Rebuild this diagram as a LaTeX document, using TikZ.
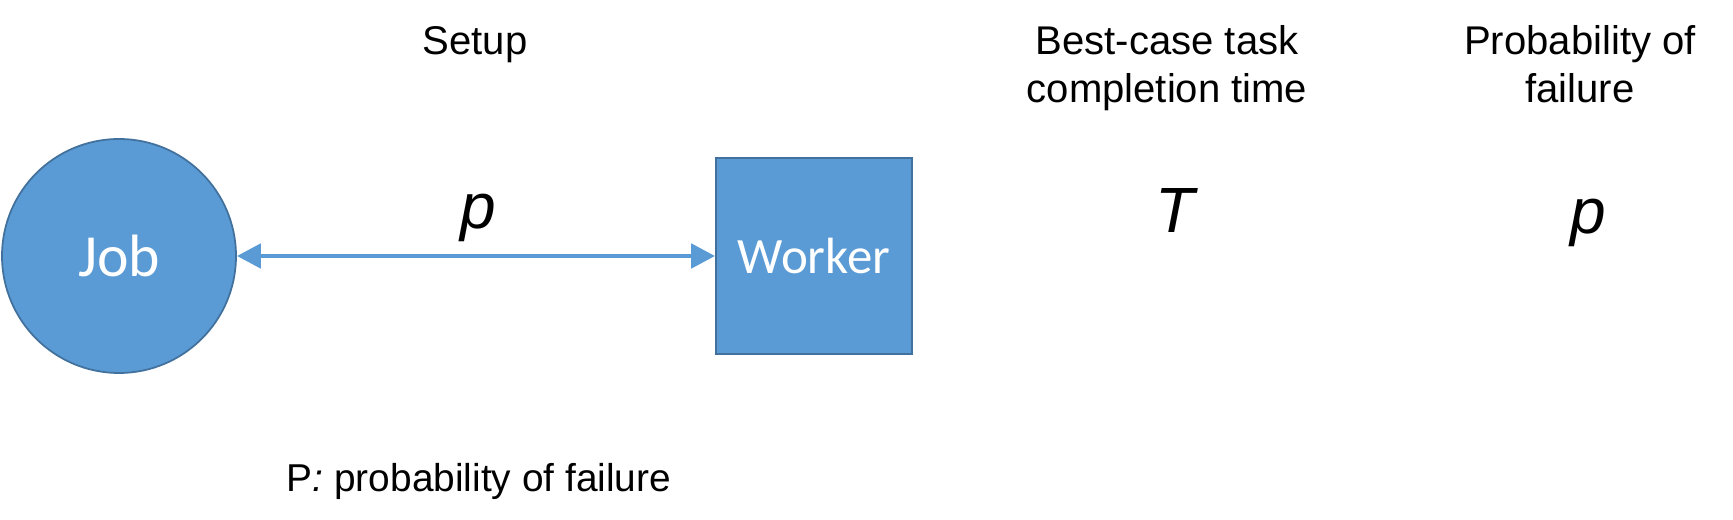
\documentclass[tikz,border=0pt]{standalone}
\usepackage{fontspec}
\setmainfont{Liberation Sans}
\newfontfamily\calibri{Carlito}
\usepackage{tikz}
\usepackage{xcolor}
\usetikzlibrary{arrows.meta}
\definecolor{officeblue}{HTML}{5B9BD5}
\definecolor{edgeblue}{HTML}{41719C}
\tikzstyle{job}=[draw=edgeblue, fill=officeblue, circle, text=white, inner sep=0pt, minimum size=2.34cm, line width=0.5pt, font=\calibri\fontsize{17}{20}\selectfont]
\tikzstyle{worker}=[draw=edgeblue, fill=officeblue, rectangle, text=white, inner sep=0pt, minimum size=1.96cm, line width=0.5pt, font=\calibri\fontsize{14.5}{17}\selectfont]
\tikzstyle{heading}=[align=center, inner sep=0pt, anchor=base, font=\fontsize{11.4}{13.9}\selectfont]
\tikzstyle{symbol}=[inner sep=0pt, anchor=base, font=\itshape\fontsize{18.2}{21}\selectfont]
\tikzstyle{link}=[{Triangle[length=6.8pt,width=6.8pt]}-{Triangle[length=6.8pt,width=6.8pt]}, officeblue, line width=1.4pt]

\begin{document}
\begin{tikzpicture}[thick]%

	\useasboundingbox (0,0) rectangle (17.33,5.2);

	\begin{scope}
		\draw  (1.19,2.64)  node (Node_Job)    [job]     {Job};
		\draw  (8.14,2.64)  node (Node_Worker) [worker]  {Worker};

		\draw [link] (Node_Job) -- (Node_Worker);

		\draw  (4.78,2.91)  node (Label_p)     [symbol]  {p};
	\end{scope}

	\begin{scope}
		\draw  (4.75,4.65)   node (Head_Setup) [heading] {Setup};
		\draw  (11.67,4.17)  node (Head_Time)  [heading] {Best-case task\\completion time};
		\draw  (15.80,4.17)  node (Head_Fail)  [heading] {Probability of\\failure};

		\draw  (11.75,2.87)  node (Value_T)    [symbol]  {T};
		\draw  (15.88,2.86)  node (Value_p)    [symbol]  {p};

		\draw  (4.79,0.29)   node (Note_P)     [heading, font=\fontsize{11.05}{13}\selectfont] {P\textit{:} probability of failure};
	\end{scope}

\end{tikzpicture}
\end{document}
